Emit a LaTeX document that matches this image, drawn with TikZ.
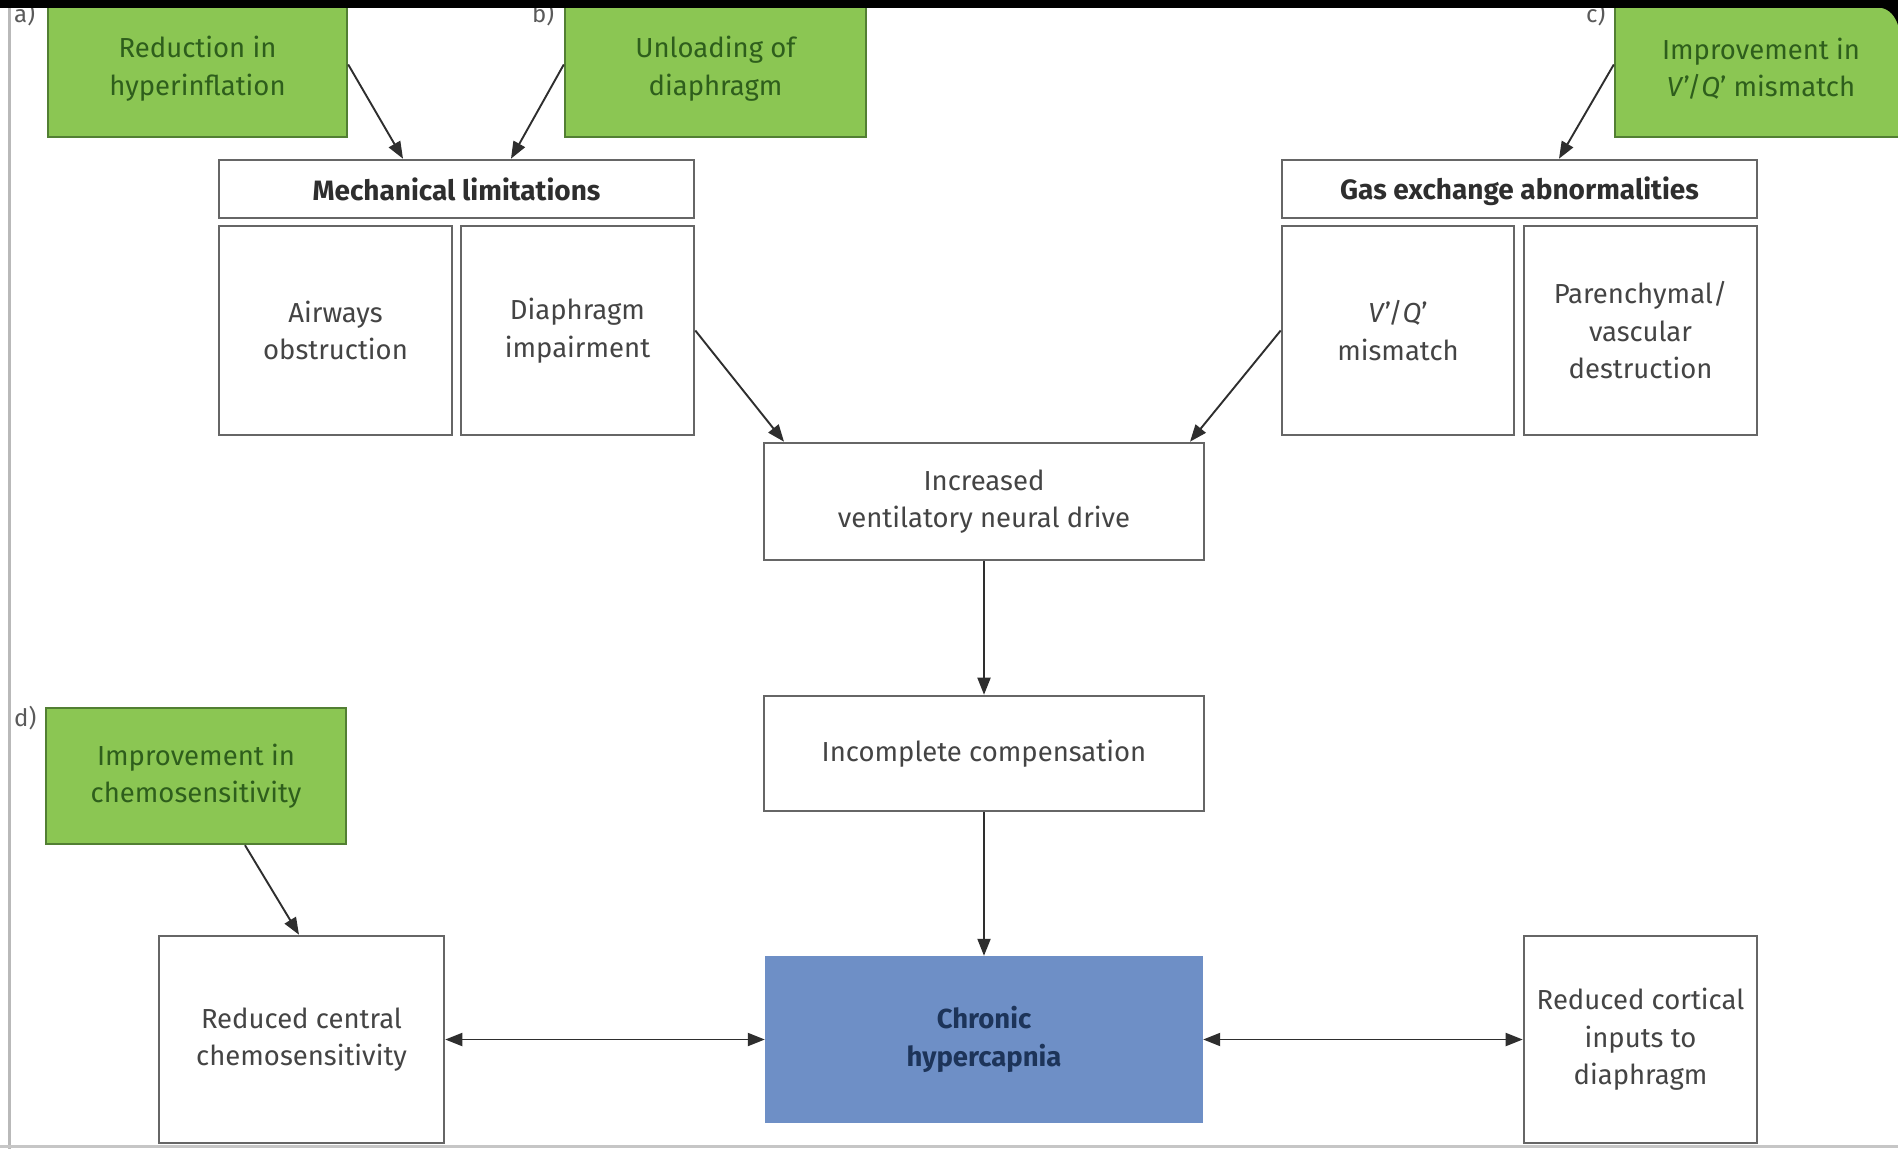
\documentclass[tikz,border=0pt]{standalone}
\usepackage{fontspec}
\setmainfont{Fira Sans}
\usetikzlibrary{arrows.meta}

\definecolor{leafgreen}{HTML}{8BC653}
\definecolor{leafedge}{HTML}{527F33}
\definecolor{leaftext}{HTML}{2E5E1C}
\definecolor{coreblue}{HTML}{6E8FC6}
\definecolor{navytext}{HTML}{1D3459}
\definecolor{edgegray}{HTML}{666666}
\definecolor{bodytext}{HTML}{444444}
\definecolor{linkgray}{HTML}{2E2E2E}
\definecolor{tagtext}{HTML}{5A5A5A}

\tikzset{
  plainbox/.style={draw=edgegray, line width=2.6pt, fill=white, align=center,
    text=bodytext, inner sep=0pt, font=\fontsize{27.5}{37.5}\selectfont},
  headbox/.style={plainbox, text=linkgray, font=\fontsize{28}{37.5}\selectfont\bfseries},
  actionbox/.style={draw=leafedge, line width=2.4pt, fill=leafgreen, align=center,
    text=leaftext, inner sep=0pt, font=\fontsize{27.5}{37.5}\selectfont},
  corebox/.style={fill=coreblue, align=center, text=navytext, inner sep=0pt,
    font=\fontsize{27.5}{37.5}\selectfont\bfseries},
  tag/.style={text=tagtext, font=\fontsize{24}{26}\selectfont, inner sep=0pt},
  link/.style={draw=linkgray, line width=1.9pt, -{Triangle[length=17pt,width=13pt]}},
  duallink/.style={draw=linkgray, line width=1.9pt,
    {Triangle[length=17pt,width=13pt]}-{Triangle[length=17pt,width=13pt]}},
}

\begin{document}
\begin{tikzpicture}[x=1pt, y=-1pt]
\useasboundingbox (0,0) rectangle (1898,1149);
\fill[white] (0,0) rectangle (1898,1149);

% interventions (green)
\node[actionbox, minimum width=299pt, minimum height=137pt] (ga) at (197.5,68.5)
  {Reduction in\\hyperinflation};
\node[actionbox, minimum width=301pt, minimum height=137pt] (gb) at (715.5,68.5)
  {Unloading of\\diaphragm};
\node[actionbox, minimum width=292pt, minimum height=137pt] (gc) at (1761,68.5)
  {Improvement in\\\textit{V}'/\textit{Q}' mismatch};
\node[actionbox, minimum width=300pt, minimum height=136pt] (gd) at (196,776)
  {Improvement in\\chemosensitivity};

% panel tags
\node[tag, anchor=north west] (ta) at (14,2) {a)};
\node[tag, anchor=north west] (tb) at (532,2) {b)};
\node[tag, anchor=north west] (tc) at (1586,2) {c)};
\node[tag, anchor=north west] (td) at (14,706) {d)};

% mechanical limitations
\node[headbox, minimum width=475pt, minimum height=58pt] (mech) at (456.5,189)
  {Mechanical limitations};
\node[plainbox, minimum width=233pt, minimum height=209pt] (air) at (335.5,330.5)
  {Airways\\obstruction};
\node[plainbox, minimum width=233pt, minimum height=209pt] (dia) at (577.5,330.5)
  {Diaphragm\\impairment};

% gas exchange abnormalities
\node[headbox, minimum width=475pt, minimum height=58pt, text depth=0.25em] (gas) at (1519.5,189)
  {Gas exchange abnormalities};
\node[plainbox, minimum width=232pt, minimum height=209pt] (vq) at (1398,330.5)
  {\textit{V}'/\textit{Q}'\\mismatch};
\node[plainbox, minimum width=233pt, minimum height=209pt] (par) at (1640.5,330.5)
  {Parenchymal/\\vascular\\destruction};

% central chain
\node[plainbox, minimum width=440pt, minimum height=117pt] (drive) at (984,501.5)
  {Increased\\ventilatory neural drive};
\node[plainbox, minimum width=440pt, minimum height=115pt] (comp) at (984,753.5)
  {Incomplete compensation};
\node[corebox, minimum width=438pt, minimum height=167pt] (hyp) at (984,1039.5)
  {Chronic\\hypercapnia};

% bottom side boxes
\node[plainbox, minimum width=285pt, minimum height=207pt] (rcc) at (301.5,1039.5)
  {Reduced central\\chemosensitivity};
\node[plainbox, minimum width=233pt, minimum height=207pt] (rci) at (1640.5,1039.5)
  {Reduced cortical\\inputs to\\diaphragm};

% connectors
\draw[link] ([yshift=4pt]ga.east) -- ([xshift=-53.5pt]mech.north);
\draw[link] ([yshift=4pt]gb.west) -- ([xshift=54.5pt]mech.north);
\draw[link] ([yshift=4pt]gc.west) -- ([xshift=39.5pt]gas.north);
\draw[link] (dia.east) -- ([xshift=-200pt]drive.north);
\draw[link] (vq.west) -- ([xshift=206pt]drive.north);
\draw[link] (drive.south) -- (comp.north);
\draw[link] (comp.south) -- (hyp.north);
\draw[link] ([xshift=49pt]gd.south) -- ([xshift=-2.5pt]rcc.north);
\draw[duallink] (rcc.east) -- (hyp.west);
\draw[duallink] (hyp.east) -- (rci.west);

% frame of the page
\fill[black] (0,0) rectangle (1898,8);
\fill[black] (1882,8) -- (1898,8) -- (1898,25) .. controls (1895,16) and (1890,10) .. (1882,8) -- cycle;
\draw[gray!55, line width=3pt] (9,8) -- (9,1149);
\draw[gray!45, line width=3pt] (0,1146.5) -- (1898,1146.5);
\end{tikzpicture}
\end{document}
